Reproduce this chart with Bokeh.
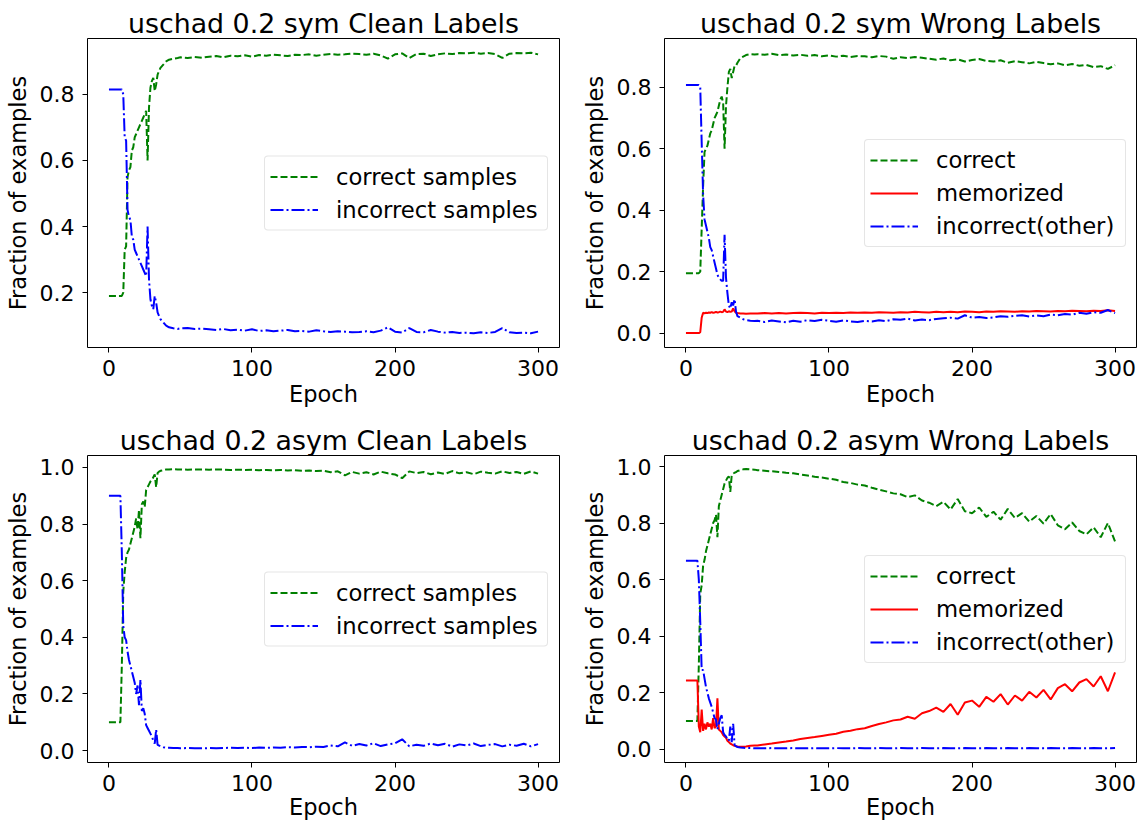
from bokeh.plotting import figure
from bokeh.layouts import column, row
from bokeh.models import ColumnDataSource, Range1d, FixedTicker, PrintfTickFormatter
from bokeh.embed import file_html
from bokeh.resources import INLINE

# ---------------- data ----------------
EPOCHS = [0, 8, 9, 10, 11, 12, 13, 14, 15, 16,
          17, 18, 19, 20, 21, 22, 23, 24, 25, 26,
          27, 28, 29, 30, 31, 32, 33, 34, 35, 36,
          38, 40, 42, 45, 48,
          50, 55, 60, 65, 70, 75, 80, 85, 90, 95,
          100, 105, 110, 115, 120, 125, 130, 135, 140, 145,
          150, 155, 160, 165, 170, 175, 180, 185, 190, 195,
          200, 205, 210, 215, 220, 225, 230, 235, 240, 245,
          250, 255, 260, 265, 270, 275, 280, 285, 290, 295,
          300]

X_TICKS = [0, 100, 200, 300]
Y_TICKS_SYM_CLEAN = [0.2, 0.4, 0.6, 0.8]
Y_TICKS_SYM_WRONG = [0.0, 0.2, 0.4, 0.6, 0.8]
Y_TICKS_ASYM = [0.0, 0.2, 0.4, 0.6, 0.8, 1.0]

TITLES = ["uschad 0.2 sym Clean Labels", "uschad 0.2 sym Wrong Labels",
          "uschad 0.2 asym Clean Labels", "uschad 0.2 asym Wrong Labels"]
CLEAN_LABELS = ["correct samples", "incorrect samples"]
WRONG_LABELS = ["correct", "memorized", "incorrect(other)"]
X_LABEL = "Epoch"
Y_LABEL = "Fraction of examples"

# sym, clean labels
sym_clean_correct = [0.19, 0.19, 0.19, 0.20, 0.33, 0.34, 0.55, 0.57, 0.58, 0.63,
                     0.64, 0.67, 0.68, 0.69, 0.70, 0.71, 0.72, 0.73, 0.74, 0.75,
                     0.60, 0.76, 0.82, 0.84, 0.85, 0.81, 0.83, 0.86, 0.87, 0.88,
                     0.89, 0.90, 0.905, 0.908, 0.91] + \
                    [0.912, 0.910, 0.913, 0.911, 0.914, 0.916, 0.912, 0.917, 0.915, 0.918,
                     0.914, 0.919, 0.917, 0.920, 0.918, 0.916, 0.920, 0.919, 0.921, 0.917,
                     0.920, 0.922, 0.920, 0.921, 0.923, 0.922, 0.920, 0.923, 0.918, 0.908,
                     0.921, 0.924, 0.910, 0.922, 0.923, 0.916, 0.921, 0.924, 0.922, 0.925,
                     0.924, 0.926, 0.923, 0.925, 0.922, 0.910, 0.923, 0.925, 0.924, 0.926,
                     0.921]
sym_clean_incorrect = [0.815, 0.815, 0.815, 0.80, 0.67, 0.66, 0.45, 0.43, 0.42, 0.37,
                       0.36, 0.33, 0.32, 0.31, 0.30, 0.29, 0.28, 0.27, 0.26, 0.25,
                       0.40, 0.24, 0.18, 0.16, 0.15, 0.19, 0.17, 0.14, 0.13, 0.12,
                       0.11, 0.10, 0.095, 0.092, 0.09] + \
                      [0.092, 0.093, 0.090, 0.091, 0.089, 0.087, 0.090, 0.086, 0.088, 0.085,
                       0.089, 0.084, 0.086, 0.083, 0.085, 0.087, 0.083, 0.084, 0.082, 0.086,
                       0.083, 0.081, 0.083, 0.082, 0.080, 0.081, 0.083, 0.080, 0.085, 0.095,
                       0.082, 0.079, 0.093, 0.081, 0.080, 0.087, 0.082, 0.079, 0.081, 0.078,
                       0.079, 0.077, 0.080, 0.078, 0.081, 0.093, 0.080, 0.078, 0.079, 0.077,
                       0.082]

# sym, wrong labels
sym_wrong_correct = [0.195, 0.195, 0.195, 0.20, 0.34, 0.48, 0.59, 0.60, 0.61, 0.63,
                     0.65, 0.66, 0.68, 0.70, 0.71, 0.72, 0.74, 0.76, 0.77, 0.75,
                     0.60, 0.74, 0.80, 0.85, 0.86, 0.83, 0.85, 0.87, 0.87, 0.88,
                     0.895, 0.90, 0.905, 0.908, 0.907] + \
                    [0.908, 0.906, 0.909, 0.905, 0.907, 0.904, 0.906, 0.903, 0.905, 0.901,
                     0.904, 0.900, 0.903, 0.899, 0.902, 0.901, 0.898, 0.902, 0.900, 0.893,
                     0.898, 0.895, 0.899, 0.896, 0.893, 0.890, 0.894, 0.888, 0.891, 0.884,
                     0.889, 0.892, 0.886, 0.884, 0.888, 0.880, 0.885, 0.882, 0.878, 0.883,
                     0.879, 0.875, 0.878, 0.872, 0.876, 0.870, 0.873, 0.866, 0.869, 0.860,
                     0.872]
sym_wrong_memorized = [0.0, 0.0, 0.0, 0.003, 0.05, 0.066, 0.064, 0.066, 0.065, 0.067,
                       0.066, 0.068, 0.066, 0.067, 0.069, 0.067, 0.068, 0.070, 0.068, 0.069,
                       0.077, 0.070, 0.068, 0.071, 0.069, 0.070, 0.080, 0.071, 0.066, 0.065,
                       0.064, 0.064, 0.063, 0.064, 0.064] + \
                      [0.064, 0.065, 0.064, 0.065, 0.064, 0.065, 0.066, 0.065, 0.064, 0.066,
                       0.065, 0.066, 0.065, 0.067, 0.066, 0.067, 0.066, 0.068, 0.067, 0.066,
                       0.068, 0.067, 0.069, 0.068, 0.067, 0.069, 0.068, 0.069, 0.068, 0.070,
                       0.069, 0.068, 0.070, 0.069, 0.071, 0.070, 0.069, 0.071, 0.070, 0.072,
                       0.071, 0.070, 0.072, 0.071, 0.073, 0.072, 0.071, 0.073, 0.072, 0.074,
                       0.072]
sym_wrong_other = [0.808, 0.808, 0.808, 0.80, 0.62, 0.45, 0.37, 0.35, 0.33, 0.31,
                   0.28, 0.27, 0.25, 0.23, 0.21, 0.19, 0.18, 0.175, 0.17, 0.17,
                   0.32, 0.18, 0.13, 0.09, 0.08, 0.10, 0.09, 0.11, 0.07, 0.055,
                   0.05, 0.045, 0.042, 0.040, 0.039] + \
                  [0.040, 0.036, 0.041, 0.038, 0.035, 0.040, 0.037, 0.042, 0.039, 0.043,
                   0.040, 0.037, 0.041, 0.038, 0.036, 0.040, 0.038, 0.042, 0.039, 0.045,
                   0.043, 0.047, 0.041, 0.044, 0.042, 0.046, 0.048, 0.050, 0.047, 0.058,
                   0.050, 0.052, 0.049, 0.051, 0.055, 0.053, 0.056, 0.058, 0.054, 0.057,
                   0.055, 0.060, 0.058, 0.062, 0.060, 0.066, 0.063, 0.068, 0.066, 0.075,
                   0.065]

# asym, clean labels
asym_clean_correct = [0.10, 0.10, 0.30, 0.56, 0.63, 0.68, 0.70, 0.71, 0.73, 0.75,
                      0.77, 0.79, 0.82, 0.78, 0.85, 0.75, 0.87, 0.88, 0.86, 0.92,
                      0.93, 0.94, 0.95, 0.955, 0.965, 0.975, 0.93, 0.98, 0.985, 0.988,
                      0.99, 0.993, 0.993, 0.994, 0.993] + \
                     [0.993, 0.992, 0.993, 0.993, 0.992, 0.993, 0.992, 0.991, 0.992, 0.991,
                      0.992, 0.990, 0.991, 0.990, 0.991, 0.989, 0.990, 0.988, 0.989, 0.987,
                      0.988, 0.983, 0.986, 0.972, 0.984, 0.978, 0.983, 0.975, 0.985, 0.979,
                      0.975, 0.962, 0.986, 0.980, 0.984, 0.976, 0.982, 0.977, 0.987, 0.979,
                      0.983, 0.976, 0.985, 0.981, 0.978, 0.986, 0.980, 0.984, 0.977, 0.986,
                      0.978]
asym_clean_incorrect = [0.90, 0.90, 0.70, 0.44, 0.40, 0.39, 0.35, 0.32, 0.30, 0.28,
                        0.26, 0.24, 0.20, 0.23, 0.16, 0.25, 0.14, 0.15, 0.13, 0.09,
                        0.08, 0.07, 0.06, 0.05, 0.035, 0.025, 0.075, 0.02, 0.018, 0.015,
                        0.012, 0.01, 0.01, 0.009, 0.009] + \
                       [0.008, 0.009, 0.008, 0.008, 0.009, 0.008, 0.009, 0.010, 0.009, 0.010,
                        0.009, 0.011, 0.010, 0.011, 0.010, 0.012, 0.011, 0.013, 0.012, 0.014,
                        0.013, 0.018, 0.015, 0.029, 0.017, 0.023, 0.018, 0.026, 0.016, 0.022,
                        0.026, 0.040, 0.015, 0.021, 0.017, 0.025, 0.019, 0.024, 0.014, 0.022,
                        0.018, 0.025, 0.016, 0.020, 0.023, 0.015, 0.021, 0.017, 0.024, 0.015,
                        0.023]

# asym, wrong labels
asym_wrong_correct = [0.10, 0.10, 0.30, 0.55, 0.58, 0.65, 0.67, 0.70, 0.72, 0.74,
                      0.76, 0.78, 0.80, 0.81, 0.83, 0.75, 0.86, 0.88, 0.90, 0.92,
                      0.94, 0.95, 0.96, 0.965, 0.91, 0.97, 0.975, 0.978, 0.98, 0.984,
                      0.987, 0.99, 0.991, 0.99, 0.989] + \
                     [0.987, 0.985, 0.983, 0.981, 0.978, 0.976, 0.972, 0.968, 0.964, 0.961,
                      0.957, 0.953, 0.945, 0.942, 0.936, 0.933, 0.925, 0.918, 0.912, 0.905,
                      0.902, 0.892, 0.898, 0.880, 0.872, 0.860, 0.875, 0.848, 0.885, 0.842,
                      0.835, 0.855, 0.822, 0.840, 0.812, 0.850, 0.818, 0.835, 0.805, 0.825,
                      0.798, 0.832, 0.792, 0.778, 0.802, 0.772, 0.760, 0.785, 0.750, 0.800,
                      0.735]
asym_wrong_memorized = [0.243, 0.243, 0.08, 0.06, 0.14, 0.065, 0.09, 0.07, 0.095, 0.08,
                        0.09, 0.07, 0.11, 0.075, 0.08, 0.18, 0.07, 0.065, 0.06, 0.05,
                        0.045, 0.04, 0.03, 0.025, 0.02, 0.017, 0.014, 0.012, 0.011, 0.010,
                        0.009, 0.009, 0.010, 0.012, 0.013] + \
                       [0.013, 0.017, 0.020, 0.024, 0.027, 0.031, 0.036, 0.040, 0.043, 0.047,
                        0.051, 0.055, 0.062, 0.065, 0.071, 0.074, 0.082, 0.089, 0.095, 0.102,
                        0.105, 0.115, 0.108, 0.127, 0.135, 0.147, 0.132, 0.160, 0.122, 0.165,
                        0.172, 0.150, 0.185, 0.168, 0.195, 0.158, 0.190, 0.172, 0.203, 0.183,
                        0.210, 0.176, 0.216, 0.230, 0.205, 0.236, 0.248, 0.222, 0.258, 0.205,
                        0.272]
asym_wrong_other = [0.667, 0.667, 0.60, 0.45, 0.28, 0.28, 0.25, 0.22, 0.20, 0.18,
                    0.165, 0.15, 0.13, 0.11, 0.105, 0.07, 0.09, 0.11, 0.12, 0.06,
                    0.05, 0.045, 0.035, 0.03, 0.08, 0.025, 0.09, 0.015, 0.01, 0.008,
                    0.006, 0.005, 0.004, 0.004, 0.003] + \
                   [0.003, 0.003, 0.004, 0.003, 0.003, 0.004, 0.003, 0.003, 0.004, 0.003,
                    0.003, 0.004, 0.003, 0.003, 0.004, 0.003, 0.003, 0.004, 0.003, 0.003,
                    0.004, 0.003, 0.003, 0.004, 0.003, 0.003, 0.004, 0.003, 0.003, 0.004,
                    0.003, 0.003, 0.004, 0.003, 0.003, 0.004, 0.003, 0.003, 0.004, 0.003,
                    0.003, 0.004, 0.003, 0.003, 0.004, 0.003, 0.003, 0.004, 0.003, 0.003,
                    0.004]

# ---------------- style ----------------
FONT = "DejaVu Sans"
GREEN, RED, BLUE = "#008000", "#ff0000", "#0000ff"
DASH = "7 3"
DASHDOT = "13 3 2 3"
TICK_PX = "22px"
LABEL_PX = "22.5px"
LEGEND_PX = "22.7px"
TITLE_PX = "26.8px"
FRAME_W = 472


def make_panel(title, series, y_range, y_ticks, frame_h, borders, label_gap,
               leg_margin, leg_label_w):
    top, bottom, left, right = borders
    p = figure(frame_width=FRAME_W, frame_height=frame_h,
               x_range=Range1d(-15, 315), y_range=Range1d(*y_range),
               output_backend="svg", toolbar_location=None,
               min_border_top=top, min_border_bottom=bottom,
               min_border_left=left, min_border_right=right,
               background_fill_color="white", border_fill_color="white")
    p.title.text = title
    p.title.align = "center"
    p.title.text_font = FONT
    p.title.text_font_size = TITLE_PX
    p.title.text_font_style = "normal"
    p.title.text_color = "black"
    p.title.standoff = 0
    p.outline_line_color = "black"
    p.outline_line_width = 1
    p.xgrid.visible = False
    p.ygrid.visible = False

    src = ColumnDataSource(dict(x=EPOCHS, **{f"s{i}": s[1] for i, s in enumerate(series)}))
    for i, (label, vals, color, dash) in enumerate(series):
        p.line("x", f"s{i}", source=src, line_color=color, line_width=2,
               line_dash=dash, legend_label=label)

    for ax in (p.xaxis[0], p.yaxis[0]):
        ax.axis_line_color = None
        ax.major_tick_line_color = "black"
        ax.major_tick_out = 5
        ax.major_tick_in = 0
        ax.minor_tick_line_color = None
        ax.major_label_text_font = FONT
        ax.major_label_text_font_size = TICK_PX
        ax.major_label_text_color = "black"
        ax.axis_label_text_font = FONT
        ax.axis_label_text_font_size = LABEL_PX
        ax.axis_label_text_font_style = "normal"
        ax.axis_label_text_color = "black"
    p.xaxis.ticker = FixedTicker(ticks=X_TICKS)
    p.yaxis.ticker = FixedTicker(ticks=y_ticks)
    p.yaxis.formatter = PrintfTickFormatter(format="%.1f")
    p.xaxis.axis_label = X_LABEL
    p.yaxis.axis_label = Y_LABEL
    p.xaxis.major_label_standoff = 7
    p.xaxis.axis_label_standoff = label_gap
    p.yaxis.major_label_standoff = 8
    p.yaxis.axis_label_standoff = 6

    leg = p.legend[0]
    leg.location = "center_right"
    leg.margin = leg_margin
    leg.padding = 5
    leg.spacing = 3
    leg.glyph_width = 48
    leg.glyph_height = 30
    leg.label_height = 30
    leg.label_width = leg_label_w
    leg.label_standoff = 18
    leg.label_text_font = FONT
    leg.label_text_font_size = LEGEND_PX
    leg.label_text_color = "black"
    leg.border_line_color = "#cccccc"
    leg.border_line_width = 1
    leg.background_fill_color = "white"
    leg.background_fill_alpha = 0.8
    if "border_radius" in leg.properties():
        leg.border_radius = 4
    return p


p1 = make_panel(TITLES[0],
                [(CLEAN_LABELS[0], sym_clean_correct, GREEN, DASH),
                 (CLEAN_LABELS[1], sym_clean_incorrect, BLUE, DASHDOT)],
                (0.034, 0.969), Y_TICKS_SYM_CLEAN, 309, (38, 66, 87, 19), 2, 11, 206)
p2 = make_panel(TITLES[1],
                [(WRONG_LABELS[0], sym_wrong_correct, GREEN, DASH),
                 (WRONG_LABELS[1], sym_wrong_memorized, RED, "solid"),
                 (WRONG_LABELS[2], sym_wrong_other, BLUE, DASHDOT)],
                (-0.047, 0.959), Y_TICKS_SYM_WRONG, 309, (38, 66, 84, 4), 2, 10, 184)
p3 = make_panel(TITLES[2],
                [(CLEAN_LABELS[0], asym_clean_correct, GREEN, DASH),
                 (CLEAN_LABELS[1], asym_clean_incorrect, BLUE, DASHDOT)],
                (-0.042, 1.042), Y_TICKS_ASYM, 307, (42, 59, 87, 19), 0, 11, 206)
p4 = make_panel(TITLES[3],
                [(WRONG_LABELS[0], asym_wrong_correct, GREEN, DASH),
                 (WRONG_LABELS[1], asym_wrong_memorized, RED, "solid"),
                 (WRONG_LABELS[2], asym_wrong_other, BLUE, DASHDOT)],
                (-0.047, 1.039), Y_TICKS_ASYM, 307, (42, 59, 84, 4), 0, 10, 184)

layout = column(row(p1, p2), row(p3, p4))
open("out.html", "w").write(file_html(layout, INLINE))
